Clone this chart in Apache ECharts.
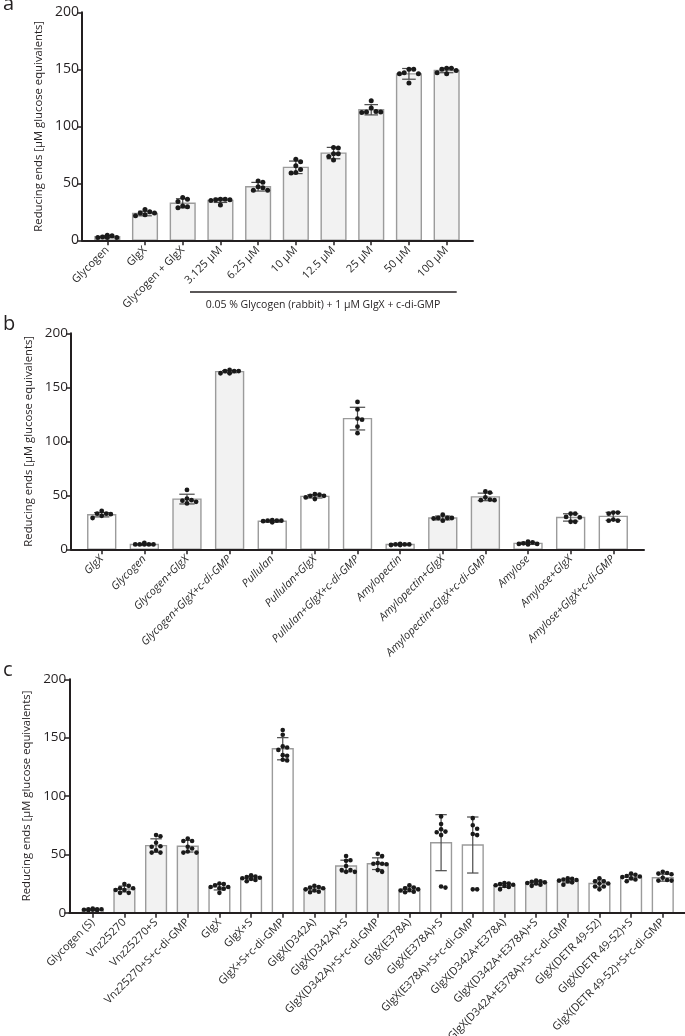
<!DOCTYPE html>
<html><head><meta charset="utf-8">
<script src="https://cdn.jsdelivr.net/npm/echarts@6/dist/echarts.min.js"></script>
<style>html,body{margin:0;padding:0;background:#fff}#chart{width:685px;height:1036px}</style>
</head><body><div id="chart"></div>
<script>
// ---------- Panel a ----------
const catsA = ['Glycogen','GlgX','Glycogen + GlgX','3.125 µM','6.25 µM','10 µM','12.5 µM','25 µM','50 µM','100 µM'];
const meanA = [3.2, 23.5, 32.5, 35, 47, 64, 76.5, 114.5, 146, 149];
const sdA   = [1, 2, 4, 1.8, 3.8, 5.5, 5, 4.5, 4.7, 2];
const ptsA  = [[2.5,4.5,3,4,2.5,2.5],[22.5,25,24,24,27,21.5],[37.5,30,34,29.5,36,28.5],[36,35.5,35,31,35.5,36],[46,52,44,47,51,44],[71,59,69,62,65.5,59.5],[76,81.5,70.5,73.5,81,76],[116,112,122.5,113,112.5,112.5],[146,150,138,146,150,147],[149,151,147,151,146,150]];
const fillA = [1,1,1,1,1,1,1,1,1,1];

// ---------- Panel b ----------
const catsB = ['GlgX','Glycogen','Glycogen+GlgX','Glycogen+GlgX+c-di-GMP','Pullulan','Pullulan+GlgX','Pullulan+GlgX+c-di-GMP','Amylopectin','Amylopectin+GlgX','Amylopectin+GlgX+c-di-GMP','Amylose','Amylose+GlgX','Amylose+GlgX+c-di-GMP'];
const meanB = [32, 4.5, 46.5, 164.5, 26, 49, 121, 4.5, 29, 48.5, 5.5, 29.5, 30.5];
const sdB   = [2, 0.6, 4.5, 1, 0.8, 1.5, 10.5, 0.5, 1.8, 3.5, 1, 3.4, 3.7];
const ptsB  = [[31,33,33,32.5,35.5,29],[4.5,6,4.5,4.5,4.5,4.5],[42.5,45.5,55,44,47,45],[163,165,165,165,166,163],[26,27,26.5,26.5,25,26.5],[51,49.5,48,50.5,46.5,49.5],[136.5,129.5,120,121,113.5,107.5],[4.5,5,4.5,4.5,4,4],[28.5,29,29,29,32,26.5],[45.5,52.5,48,53.5,45.5,46],[5,7,5.5,6.5,5,4.5],[33,29.5,25.5,30,25.5,33],[34,34,33,26.5,27.5,26.5]];
const fillB = [0,0,1,1,0,0,0,0,1,1,0,0,0];

// ---------- Panel c ----------
const catsC = ['Glycogen (S)','Vnz25270','Vnz25270+S','Vnz25270+S+c-di-GMP','GlgX','GlgX+S','GlgX+S+c-di-GMP','GlgX(D342A)','GlgX(D342A)+S','GlgX(D342A)+S+c-di-GMP','GlgX(E378A)','GlgX(E378A)+S','GlgX(E378A)+S+c-di-GMP','GlgX(D342A+E378A)','GlgX(D342A+E378A)+S','GlgX(D342A+E378A)+S+c-di-GMP','GlgX(DETR 49-52)','GlgX(DETR 49-52)+S','GlgX(DETR 49-52)+S+c-di-GMP'];
const meanC = [2.7, 20.3, 57.5, 57, 21.9, 29.6, 140.5, 20.3, 40, 42, 20, 60, 58, 23.4, 25.6, 27.2, 25, 30.3, 30];
const sdC   = [0.6, 2.5, 5.8, 5, 2.4, 1.6, 9.5, 2, 5, 5, 2, 24, 24, 1.7, 1.5, 1.7, 3, 2.1, 3];
const ptsC  = [
  [3,3.5,2.5,2,3,2.5,2,3],
  [24.5,23,21,21,19.5,19.5,17,17],
  [60,65.5,66.5,51.5,53.5,51.5,57,56.5],
  [61.5,63.5,61.5,51.5,56.5,55,52.5,51.5],
  [25,24.5,23.5,22,22,21,20.5,17],
  [32,31,30.5,30,29.5,29,28,27],
  [156.5,152.5,141.5,142.5,139.5,135,134.5,130.5,131],
  [23,22,21.5,21,20,19,17.5,18],
  [48.5,44.5,45,36.5,35,36.5,35,40],
  [48.5,50.5,42,42.5,42,41.5,36.5,35],
  [23.5,21.5,21,20,19.5,19,18,17.5],
  [82.5,76,69,69.5,71.5,66.5,21.5,22.5],
  [81,75,72,67.5,66.5,20,20],
  [25.5,25,24.5,24,23.5,23,22,20],
  [27.5,27,26.5,26,25.5,25,24,23],
  [29.5,29,28.5,28,27.5,27,26,24],
  [29.5,27,25,27,25,22.5,20,22.5],
  [33.5,32.5,31.5,31,30.5,29.5,28.5,27],
  [33.5,35,34,33,27.5,28,27.5,30]
];
const fillC = [1,1,1,1,0,0,0,1,1,1,0,0,0,1,1,1,0,0,0];

const yTicks = {min: 0, max: 200, interval: 50};
const yName = 'Reducing ends [µM glucose equivalents]';
const FONT = 'Open Sans';
const INK = '#231f20';

const panels = [
  {cats: catsA, mean: meanA, sd: sdA, pts: ptsA, fill: fillA, axisX: 82, axisEnd: 473, bandL: 88.45, bandR: 465.5, top: 12.3, bottom: 240.3, nameGap: 30, italic: 'normal', r: 2.5, tickFont: 14, catFont: 11},
  {cats: catsB, mean: meanB, sd: sdB, pts: ptsB, fill: fillB, axisX: 71, axisEnd: 644, bandL: 80.4, bandR: 634.6, top: 333.3, bottom: 549.3, nameGap: 26, italic: 'italic', r: 2.4, tickFont: 13.5, catFont: 11},
  {cats: catsC, mean: meanC, sd: sdC, pts: ptsC, fill: fillC, axisX: 69.3, axisEnd: 685, bandL: 76.9, bandR: 678.6, top: 679.3, bottom: 912.7, nameGap: 28, italic: 'normal', r: 2.3, tickFont: 13.5, catFont: 11}
];

function swarm(ys, r, maxOff) {
  const idx = ys.map((y, j) => j).sort((a, b) => ys[a] - ys[b]);
  const placed = [];
  const xs = new Array(ys.length);
  const d = 2 * r * 0.95;
  for (const j of idx) {
    let best = 0, bestScore = -Infinity;
    for (let k = 0; k < 9; k++) {
      const off = k === 0 ? 0 : (k % 2 ? 1 : -1) * Math.ceil(k / 2) * d;
      if (Math.abs(off) > maxOff) continue;
      let minD = Infinity;
      for (const p of placed) {
        const dd = Math.hypot(p[0] - off, p[1] - ys[j]);
        if (dd < minD) minD = dd;
      }
      if (minD >= d) { best = off; bestScore = Infinity; break; }
      if (minD > bestScore) { bestScore = minD; best = off; }
    }
    xs[j] = best;
    placed.push([best, ys[j]]);
  }
  return xs;
}

const grids = [], xAxes = [], yAxes = [], series = [];
panels.forEach((p, k) => {
  const h = p.bottom - p.top;
  grids.push({left: p.axisX, top: p.top, width: p.axisEnd - p.axisX, height: h, outerBoundsMode: 'none', containLabel: false});
  grids.push({left: p.bandL, top: p.top, width: p.bandR - p.bandL, height: h, outerBoundsMode: 'none', containLabel: false});
  xAxes.push({gridIndex: 2*k, type: 'value', min: 0, max: 1, z: 5,
    axisLine: {show: true, onZero: false, lineStyle: {color: INK, width: 2}},
    axisTick: {show: false}, axisLabel: {show: false}, splitLine: {show: false}});
  xAxes.push({gridIndex: 2*k+1, type: 'category', data: p.cats, z: 5,
    axisLine: {show: true, lineStyle: {color: INK, width: 2}},
    axisTick: {show: true, alignWithLabel: true, length: 5, lineStyle: {color: INK, width: 1.5}},
    axisLabel: {rotate: 45, interval: 0, fontSize: p.catFont, fontFamily: FONT, fontStyle: p.italic, color: '#2a2a2a', margin: 8}});
  yAxes.push({gridIndex: 2*k, type: 'value', min: yTicks.min, max: yTicks.max, interval: yTicks.interval, z: 5,
    axisLine: {show: true, onZero: false, lineStyle: {color: INK, width: 2}},
    axisTick: {show: true, length: 5, lineStyle: {color: INK, width: 1.5}},
    axisLabel: {fontSize: p.tickFont, fontFamily: FONT, color: INK, margin: 3},
    splitLine: {show: false},
    name: yName, nameLocation: 'middle', nameGap: p.nameGap,
    nameTextStyle: {fontSize: 11.3, fontFamily: FONT, color: INK}});
  yAxes.push({gridIndex: 2*k+1, type: 'value', min: yTicks.min, max: yTicks.max, show: false});
  series.push({
    type: 'custom', xAxisIndex: 2*k+1, yAxisIndex: 2*k+1, z: 2,
    data: p.cats.map((c, i) => [i, p.mean[i], p.sd[i], p.fill[i]]),
    renderItem: (params, api) => {
      const i = api.value(0), m = api.value(1), s = api.value(2), f = api.value(3);
      const band = api.size([1, 0])[0];
      const bw = band * 0.655;
      const base = api.coord([i, 0]);
      const top = api.coord([i, m]);
      const hi = api.coord([i, m + s]);
      const lo = api.coord([i, Math.max(0, m - s)]);
      const cx = base[0];
      const cap = bw * 0.55;
      const children = [
        {type: 'rect', shape: {x: cx - bw/2, y: top[1], width: bw, height: base[1] - top[1]},
         style: {fill: f ? '#f2f2f2' : '#ffffff', stroke: '#9b9b9b', lineWidth: 1.4}},
        {type: 'line', shape: {x1: cx, y1: hi[1], x2: cx, y2: lo[1]}, style: {stroke: '#4a4a4a', lineWidth: 1.2}},
        {type: 'line', shape: {x1: cx - cap/2, y1: hi[1], x2: cx + cap/2, y2: hi[1]}, style: {stroke: '#4a4a4a', lineWidth: 1.2}},
        {type: 'line', shape: {x1: cx - cap/2, y1: lo[1], x2: cx + cap/2, y2: lo[1]}, style: {stroke: '#4a4a4a', lineWidth: 1.2}}
      ];
      const ys = p.pts[i].map(v => api.coord([i, v])[1]);
      const xs = swarm(ys, p.r, bw/2 - p.r*0.3);
      ys.forEach((y, j) => {
        children.push({type: 'circle', shape: {cx: cx + xs[j], cy: y, r: p.r}, style: {fill: '#1a1a1a'}});
      });
      return {type: 'group', children};
    }
  });
});

const chart = echarts.init(document.getElementById('chart'), null, {renderer: 'canvas'});
chart.setOption({
  animation: false,
  backgroundColor: '#ffffff',
  grid: grids, xAxis: xAxes, yAxis: yAxes, series,
  graphic: [
    {type: 'text', left: 3, top: -6, style: {text: 'a', font: '20px "Open Sans"', fill: INK}},
    {type: 'text', left: 3, top: 314, style: {text: 'b', font: '20px "Open Sans"', fill: INK}},
    {type: 'text', left: 3, top: 660, style: {text: 'c', font: '20px "Open Sans"', fill: INK}},
    {type: 'line', shape: {x1: 190, y1: 292, x2: 456.7, y2: 292}, style: {stroke: INK, lineWidth: 1.5}},
    {type: 'text', x: 323, y: 305.5, style: {text: '0.05 % Glycogen (rabbit) + 1 µM GlgX + c-di-GMP', font: '10.5px "Open Sans"', fill: INK, textAlign: 'center', textVerticalAlign: 'middle'}}
  ]
});
</script></body></html>
